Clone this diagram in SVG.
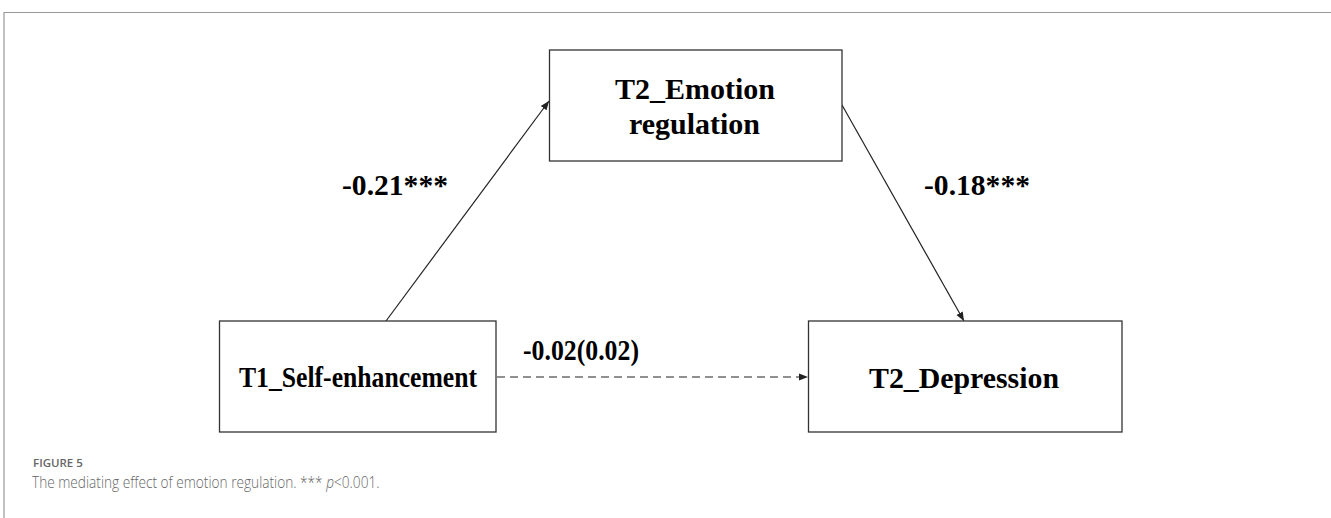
<svg xmlns="http://www.w3.org/2000/svg" width="1331" height="518" viewBox="0 0 1331 518">
<style>
.box{fill:#fff;stroke:#333;stroke-width:1.3}
.lbl{font-family:"Liberation Serif","Times New Roman",serif;font-weight:bold;font-size:30px;fill:#000}
.edge{stroke:#222;stroke-width:1.2;fill:none}
.cap{font-family:"Open Sans","Noto Sans",sans-serif;fill:#666}
</style>
<defs>
<marker id="ah" viewBox="0 0 10 10" refX="10" refY="5" markerWidth="9" markerHeight="9" markerUnits="userSpaceOnUse" orient="auto">
<path d="M0,1 L10,5 L0,9 z" fill="#222"/>
</marker>
</defs>
<rect width="1331" height="518" fill="#fff"/>
<path d="M4,518 V12.5 H1331" fill="none" stroke="#999" stroke-width="1.2"/>
<g id="connectors">
<line class="edge" x1="386" y1="321" x2="549" y2="101" marker-end="url(#ah)"/>
<line class="edge" x1="842" y1="105" x2="964" y2="321" marker-end="url(#ah)"/>
<line class="edge" x1="497" y1="377" x2="808" y2="377" stroke="#000" stroke-dasharray="8,5" stroke-width="2" marker-end="url(#ah)"/>
<text class="lbl" x="342" y="195" textLength="106" lengthAdjust="spacingAndGlyphs">-0.21***</text>
<text class="lbl" x="924" y="195" textLength="106" lengthAdjust="spacingAndGlyphs">-0.18***</text>
<text class="lbl" x="523" y="360" textLength="116" lengthAdjust="spacingAndGlyphs">-0.02(0.02)</text>
</g>
<g id="node-emotion">
<rect class="box" x="549.5" y="50" width="292.5" height="111"/>
<text class="lbl" x="615" y="99" textLength="160" lengthAdjust="spacingAndGlyphs">T2_Emotion</text>
<text class="lbl" x="629" y="134" textLength="131" lengthAdjust="spacingAndGlyphs">regulation</text>
</g>
<g id="node-self">
<rect class="box" x="219.5" y="321" width="276.5" height="111"/>
<text class="lbl" x="239" y="387" textLength="238" lengthAdjust="spacingAndGlyphs">T1_Self-enhancement</text>
</g>
<g id="node-depression">
<rect class="box" x="808.5" y="321" width="313.5" height="111"/>
<text class="lbl" x="869" y="388" textLength="190" lengthAdjust="spacingAndGlyphs">T2_Depression</text>
</g>
<g id="caption">
<text class="cap" x="33" y="467" font-size="11.5" font-weight="600">FIGURE 5</text>
<text class="cap" x="37.4" y="488" font-size="16" font-weight="300" transform="scale(0.855,1)">The mediating effect of emotion regulation. *** <tspan font-style="italic">p</tspan>&lt;0.001.</text>
</g>
</svg>
